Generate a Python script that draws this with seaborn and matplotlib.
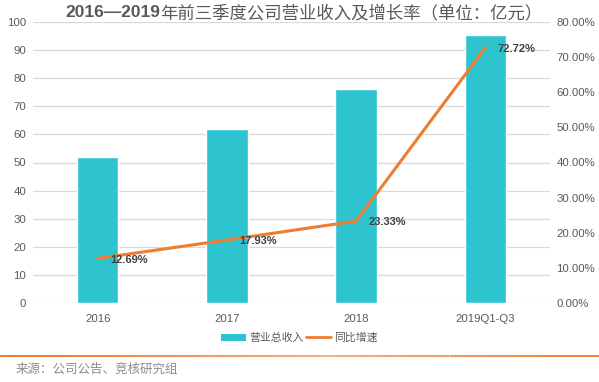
import matplotlib
matplotlib.use("Agg")
import matplotlib.pyplot as plt
import seaborn as sns
import numpy as np
import pandas as pd
from matplotlib.ticker import FuncFormatter, MultipleLocator
from matplotlib.lines import Line2D
from matplotlib.patches import Patch

categories = ["2016", "2017", "2018", "2019Q1-Q3"]
revenue = [52.1, 61.8, 76.3, 95.5]
growth = [12.69, 17.93, 23.33, 72.72]
growth_labels = ["12.69%", "17.93%", "23.33%", "72.72%"]

sns.set_theme(style="white")
plt.rcParams['font.family'] = ['Liberation Sans', 'Noto Sans CJK SC', 'DejaVu Sans']

BAR = "#2DC3CF"
LINE = "#ED7D31"
GRAY = "#595959"

fig = plt.figure(figsize=(5.99, 3.82), dpi=100)
ax = fig.add_axes([33/599, 79/382, (550-33)/599, (303-22)/382])
df = pd.DataFrame({"cat": categories, "rev": revenue, "g": growth})
sns.barplot(data=df, x="cat", y="rev", ax=ax, color=BAR, width=0.32, saturation=1)
ax.set_ylim(0, 100)
ax.yaxis.set_major_locator(MultipleLocator(10))
ax.grid(axis="y", color="#D9D9D9", linewidth=0.9)
ax.set_axisbelow(True)
for s in ax.spines.values():
    s.set_visible(False)
ax.set_xlabel("")
ax.set_ylabel("")
ax.tick_params(axis="y", labelsize=8.2, labelcolor=GRAY, length=0, pad=5)
ax.tick_params(axis="x", labelsize=8.2, labelcolor=GRAY, length=0, pad=8)
ax.set_xlim(-0.5, 3.5)

ax2 = ax.twinx()
sns.pointplot(data=df, x="cat", y="g", ax=ax2, color=LINE, markers="", linestyles="-", linewidth=2.2)
ax2.set_ylim(0, 80)
ax2.yaxis.set_major_locator(MultipleLocator(10))
ax2.yaxis.set_major_formatter(FuncFormatter(lambda v, p: f"{v:.2f}%"))
for s in ax2.spines.values():
    s.set_visible(False)
ax2.set_ylabel("")
ax2.set_xlabel("")
ax2.tick_params(axis="y", labelsize=8.2, labelcolor=GRAY, length=0, pad=4.5)
ax2.set_xlim(-0.5, 3.5)
for i, (g, lab) in enumerate(zip(growth, growth_labels)):
    ax2.annotate(lab, (i, g), xytext=(9, -1), textcoords="offset points",
                 ha="left", va="center", fontsize=8, fontweight="bold", color="#404040")

t1 = fig.text(65/599, 0.967, "2016—2019", ha="left", va="center",
              fontsize=12.5, fontweight="bold", color=GRAY)
fig.text(0, 0, "")
ax.annotate("年前三季度公司营业收入及增长率（单位：亿元）", xy=(1, 0.5), xycoords=t1,
            xytext=(0, 0), textcoords="offset points", ha="left", va="center",
            fontsize=12.5, color=GRAY, annotation_clip=False)

handles = [Patch(facecolor=BAR, edgecolor="none"), Line2D([0], [0], color=LINE, lw=2)]
fig.legend(handles, ["营业总收入", "同比增速"], loc="center", bbox_to_anchor=(0.5, 1 - 338/382),
           ncol=2, frameon=False, fontsize=7.8, labelcolor=GRAY, handlelength=2.3,
           handletextpad=0.3, columnspacing=0.2, handleheight=0.7)

# gradient separator line
xs = np.linspace(0, 1, 200)
for a, b in zip(xs[:-1], xs[1:]):
    m = (a + b) / 2
    alpha = 0.45 + 0.55 * abs(m - 0.55) / 0.55
    fig.add_artist(Line2D([a, b], [1 - 356/382] * 2, color=LINE, lw=1.5, alpha=min(alpha, 1),
                          transform=fig.transFigure))

fig.text(16/599, 1 - 370/382, "来源：公司公告、竞核研究组", ha="left", va="center",
         fontsize=9, color="#8C8C8C", style="italic")

fig.savefig("out.png", dpi=100)
